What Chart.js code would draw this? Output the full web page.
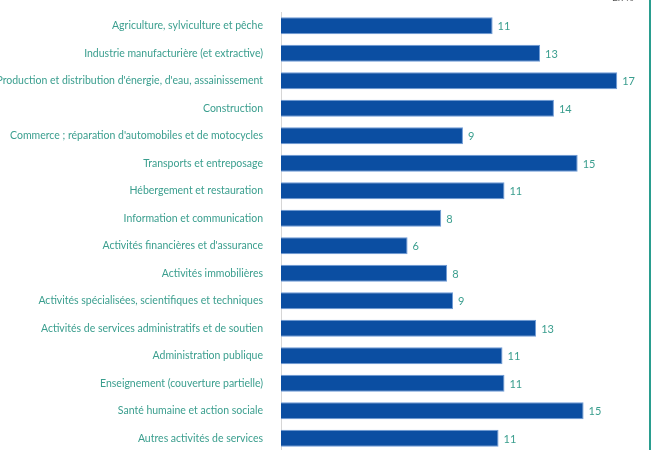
<!DOCTYPE html>
<html>
<head>
<meta charset="utf-8">
<script src="https://cdn.jsdelivr.net/npm/chart.js@4"></script>
<style>
  html, body { margin: 0; padding: 0; background: #fff; overflow: hidden; }
  #wrap { position: relative; width: 656px; height: 450px; }
  #chart { position: absolute; left: 0; top: 0; }
  #unit { position: absolute; left: 612px; top: -9px; font: 10px Lato, sans-serif; color: #555; }
  #edge { position: absolute; left: 649px; top: 0; width: 2px; height: 450px; background: #2a9d8f; }
</style>
</head>
<body>
<div id="wrap">
  <canvas id="chart" width="656" height="452"></canvas>
  <div id="unit">En %</div>
  <div id="edge"></div>
</div>
<script>
const sectors = [
  'Agriculture, sylviculture et pêche',
  'Industrie manufacturière (et extractive)',
  "Production et distribution d'énergie, d'eau, assainissement",
  'Construction',
  "Commerce ; réparation d'automobiles et de motocycles",
  'Transports et entreposage',
  'Hébergement et restauration',
  'Information et communication',
  "Activités financières et d'assurance",
  'Activités immobilières',
  'Activités spécialisées, scientifiques et techniques',
  'Activités de services administratifs et de soutien',
  'Administration publique',
  'Enseignement (couverture partielle)',
  'Santé humaine et action sociale',
  'Autres activités de services',
]
const shares = [10.7, 13.1, 17.0, 13.8, 9.2, 15.0, 11.3, 8.1, 6.4, 8.4, 8.7, 12.9, 11.2, 11.3, 15.3, 11.0]

const teal = '#3a9e8e'

const valueLabels = {
  id: 'valueLabels',
  afterDatasetsDraw(chart) {
    const ctx = chart.ctx
    const meta = chart.getDatasetMeta(0)
    ctx.save()
    ctx.font = '11px Lato, sans-serif'
    ctx.fillStyle = teal
    ctx.textAlign = 'left'
    ctx.textBaseline = 'middle'
    meta.data.forEach((bar, i) => {
      ctx.fillText(Math.round(shares[i]), bar.x + 5, bar.y + 1)
    })
    ctx.restore()
  },
}

new Chart(document.getElementById('chart'), {
  type: 'bar',
  data: {
    labels: sectors,
    datasets: [
      {
        data: shares,
        backgroundColor: '#0b4ea2',
        borderColor: '#6f9bd6',
        borderWidth: 1,
        borderSkipped: 'start',
        barPercentage: 0.62,
        categoryPercentage: 1,
      },
    ],
  },
  options: {
    indexAxis: 'y',
    responsive: false,
    animation: false,
    layout: { padding: { top: 12, right: 19, bottom: 0, left: 0 } },
    plugins: {
      legend: { display: false },
      tooltip: { enabled: false },
    },
    scales: {
      x: {
        display: false,
        min: 0,
        max: 18,
      },
      y: {
        afterFit: (scale) => {
          scale.width = 281
          scale.paddingTop = 0
          scale.paddingBottom = 0
        },
        grid: { display: false, drawTicks: false },
        border: { display: true, color: '#d6d6d6', width: 1 },
        ticks: {
          padding: 18,
          color: teal,
          font: { family: 'Lato, sans-serif', size: 10.5 },
          autoSkip: false,
        },
      },
    },
  },
  plugins: [valueLabels],
})
</script>
</body>
</html>
